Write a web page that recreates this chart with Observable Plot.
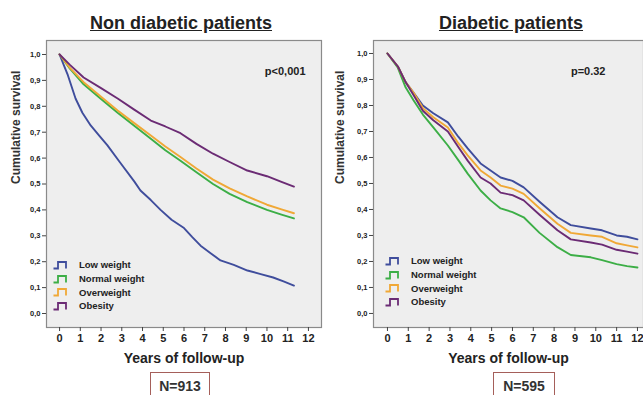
<!DOCTYPE html>
<html>
<head>
<meta charset="utf-8">
<script src="https://cdn.jsdelivr.net/npm/d3@7"></script>
<script src="https://cdn.jsdelivr.net/npm/@observablehq/plot@0.6"></script>
<style>
  html, body { margin: 0; padding: 0; background: #fff; }
  #wrap { position: relative; width: 643px; height: 395px; overflow: hidden; font-family: "Liberation Sans", Arial, sans-serif; color: #222; }
  .panel { position: absolute; top: 0; }
  .title { position: absolute; top: 13px; font-size: 18px; font-weight: bold; text-decoration: underline; white-space: nowrap; transform: translateX(-50%); color: #222; }
  .nbox { position: absolute; top: 372px; height: 30px; border: 1.5px solid #a55f5a; font-size: 14px; font-weight: bold; text-align: center; line-height: 27px; color: #333; background: #fff; }
  .legend { position: absolute; font-size: 9.5px; font-weight: bold; color: #222; }
  .legend .row { display: flex; align-items: center; height: 13.7px; white-space: nowrap; }
  .legend svg { margin-right: 9px; }
</style>
</head>
<body>
<div id="wrap"></div>
<script>
// ---------- Data ----------
const xTicks = [0,1,2,3,4,5,6,7,8,9,10,11,12];
const yTicks = [0,0.1,0.2,0.3,0.4,0.5,0.6,0.7,0.8,0.9,1.0];
const groups = ["Low weight", "Normal weight", "Overweight", "Obesity"];
const groupColors = ["#3f4d9c", "#3cae46", "#f0a836", "#6b2b74"];
const panelTitles = ["Non diabetic patients", "Diabetic patients"];
const pValues = ["p<0,001", "p=0.32"];
const nValues = ["N=913", "N=595"];

// Non diabetic patients
const ndLowT   = [0, 0.2, 0.4, 0.77, 1.1, 1.5, 1.9, 2.3, 2.9, 3.6, 3.9, 4.4, 4.87, 5.4, 6.0, 6.4, 6.8, 7.3, 7.76, 8.4, 9.06, 9.7, 10.3, 10.8, 11.3];
const ndLowS   = [1, 0.96, 0.92, 0.83, 0.775, 0.726, 0.688, 0.65, 0.585, 0.51, 0.475, 0.438, 0.40, 0.362, 0.33, 0.295, 0.262, 0.232, 0.205, 0.188, 0.166, 0.152, 0.139, 0.124, 0.108];
const ndNormT  = [0, 0.5, 1.16, 2.0, 2.8, 3.6, 4.4, 5.1, 5.83, 6.6, 7.4, 8.2, 9.05, 10.0, 10.7, 11.3];
const ndNormS  = [1, 0.945, 0.885, 0.828, 0.775, 0.725, 0.675, 0.63, 0.59, 0.545, 0.50, 0.462, 0.43, 0.40, 0.382, 0.367];
const ndOverT  = [0, 0.5, 1.16, 2.0, 2.8, 3.6, 4.4, 5.1, 5.83, 6.6, 7.4, 8.2, 9.05, 10.0, 10.7, 11.3];
const ndOverS  = [1, 0.948, 0.893, 0.837, 0.784, 0.735, 0.687, 0.645, 0.604, 0.56, 0.517, 0.483, 0.452, 0.42, 0.402, 0.387];
const ndObT    = [0, 0.5, 1.16, 2.0, 2.8, 3.6, 4.4, 5.1, 5.83, 6.6, 7.4, 8.2, 9.05, 10.0, 10.7, 11.3];
const ndObS    = [1, 0.96, 0.911, 0.87, 0.83, 0.787, 0.745, 0.722, 0.696, 0.655, 0.617, 0.585, 0.552, 0.53, 0.508, 0.49];

// Diabetic patients
const dLowT    = [0, 0.5, 0.87, 1.25, 1.7, 2.2, 2.9, 3.4, 3.85, 4.47, 4.95, 5.43, 6.0, 6.54, 7.3, 8.16, 8.8, 9.76, 10.3, 11.0, 11.5, 12.0];
const dLowS    = [1, 0.95, 0.89, 0.85, 0.80, 0.77, 0.735, 0.68, 0.635, 0.577, 0.55, 0.523, 0.51, 0.485, 0.43, 0.37, 0.34, 0.327, 0.32, 0.30, 0.295, 0.285];
const dNormT   = [0, 0.5, 0.87, 1.25, 1.7, 2.2, 2.9, 3.4, 3.85, 4.47, 4.95, 5.43, 6.0, 6.54, 7.3, 8.16, 8.8, 9.76, 10.3, 11.0, 11.5, 12.0];
const dNormS   = [1, 0.945, 0.87, 0.82, 0.765, 0.716, 0.646, 0.59, 0.538, 0.473, 0.435, 0.404, 0.39, 0.37, 0.31, 0.255, 0.225, 0.216, 0.205, 0.19, 0.182, 0.177];
const dOverT   = [0, 0.5, 0.87, 1.25, 1.7, 2.2, 2.9, 3.4, 3.85, 4.47, 4.95, 5.43, 6.0, 6.54, 7.3, 8.16, 8.8, 9.76, 10.3, 11.0, 11.5, 12.0];
const dOverS   = [1, 0.95, 0.89, 0.85, 0.79, 0.755, 0.715, 0.655, 0.608, 0.55, 0.523, 0.492, 0.48, 0.46, 0.405, 0.345, 0.31, 0.30, 0.295, 0.27, 0.262, 0.254];
const dObT     = [0, 0.5, 0.87, 1.25, 1.7, 2.2, 2.9, 3.4, 3.85, 4.47, 4.95, 5.43, 6.0, 6.54, 7.3, 8.16, 8.8, 9.76, 10.3, 11.0, 11.5, 12.0];
const dObS     = [1, 0.95, 0.89, 0.84, 0.78, 0.743, 0.70, 0.64, 0.588, 0.523, 0.50, 0.465, 0.455, 0.435, 0.38, 0.32, 0.285, 0.273, 0.265, 0.245, 0.238, 0.23];

// ---------- Build tables ----------
function series(ts, ss, g) { return ts.map((t, i) => ({t, s: ss[i], g})); }
const ndData = [
  ...series(ndLowT, ndLowS, groups[0]),
  ...series(ndNormT, ndNormS, groups[1]),
  ...series(ndOverT, ndOverS, groups[2]),
  ...series(ndObT, ndObS, groups[3])
];
const dData = [
  ...series(dLowT, dLowS, groups[0]),
  ...series(dNormT, dNormS, groups[1]),
  ...series(dOverT, dOverS, groups[2]),
  ...series(dObT, dObS, groups[3])
];

const wrap = document.getElementById("wrap");
const fmtY = d => d.toFixed(1).replace(".", ",");

function panel(data, opts) {
  return Plot.plot({
    width: opts.width, height: 395,
    marginLeft: opts.marginLeft, marginRight: opts.marginRight, marginTop: 40, marginBottom: 68,
    style: {fontFamily: "'Liberation Sans', Arial, sans-serif", color: "#222", background: "transparent", overflow: "visible"},
    x: {domain: opts.xDomain},
    y: {domain: opts.yDomain},
    color: {domain: groups, range: groupColors},
    marks: [
      Plot.frame({fill: "#eeeeee", stroke: "#8a8a8a", strokeWidth: 1.2}),
      Plot.axisX({ticks: xTicks, tickSize: 4, tickPadding: 3, fontSize: 11, fontWeight: "bold", stroke: "#444", label: null}),
      Plot.axisY({ticks: yTicks, tickFormat: fmtY, tickSize: 4, tickPadding: 2, fontSize: 7.5, fontWeight: "bold", stroke: "#444", label: null}),
      Plot.text(["Years of follow-up"], {frameAnchor: "bottom", dy: 35, fontSize: 14, fontWeight: "bold", fill: "#222"}),
      Plot.text(["Cumulative survival"], {frameAnchor: "left", dx: -opts.yLabelOffset, rotate: -90, fontSize: 12, fontWeight: "bold", fill: "#333"}),
      Plot.line(data, {x: "t", y: "s", z: "g", stroke: "g", strokeWidth: 1.9, curve: "linear"}),
      Plot.text([opts.p], {frameAnchor: "top-right", dx: opts.pDx, dy: 27, textAnchor: "end", fontSize: 11, fontWeight: "bold", fill: "#222"})
    ]
  });
}

const left = panel(ndData, {width: 322, marginLeft: 46, marginRight: 1, xDomain: [-0.63, 12.63], yDomain: [-0.054, 1.054], p: pValues[0], pDx: -16, yLabelOffset: 30});
const right = panel(dData, {width: 321, marginLeft: 51, marginRight: 0, xDomain: [-0.67, 12.29], yDomain: [-0.054, 1.05], p: pValues[1], pDx: -38, yLabelOffset: 33});
left.classList.add("panel"); left.style.left = "0px";
right.classList.add("panel"); right.style.left = "322px";
wrap.appendChild(left);
wrap.appendChild(right);

// Titles
[[panelTitles[0], 181], [panelTitles[1], 511]].forEach(([t, cx]) => {
  const d = document.createElement("div");
  d.className = "title"; d.textContent = t; d.style.left = cx + "px";
  wrap.appendChild(d);
});
// N boxes
[[nValues[0], 150, 58], [nValues[1], 493, 60]].forEach(([t, x, w]) => {
  const d = document.createElement("div");
  d.className = "nbox"; d.textContent = t; d.style.left = x + "px"; d.style.width = w + "px";
  wrap.appendChild(d);
});
// Legends
function legend(x, y) {
  const d = document.createElement("div");
  d.className = "legend"; d.style.left = x + "px"; d.style.top = y + "px";
  groups.forEach((g, i) => {
    const row = document.createElement("div"); row.className = "row";
    row.innerHTML = `<svg width="17" height="10"><path d="M0.5,8.5 H5 V2 H13 V8.5" fill="none" stroke="${groupColors[i]}" stroke-width="1.8"/></svg><span>${g}</span>`;
    d.appendChild(row);
  });
  wrap.appendChild(d);
}
legend(53, 258);
legend(385, 254);
</script>
</body>
</html>
